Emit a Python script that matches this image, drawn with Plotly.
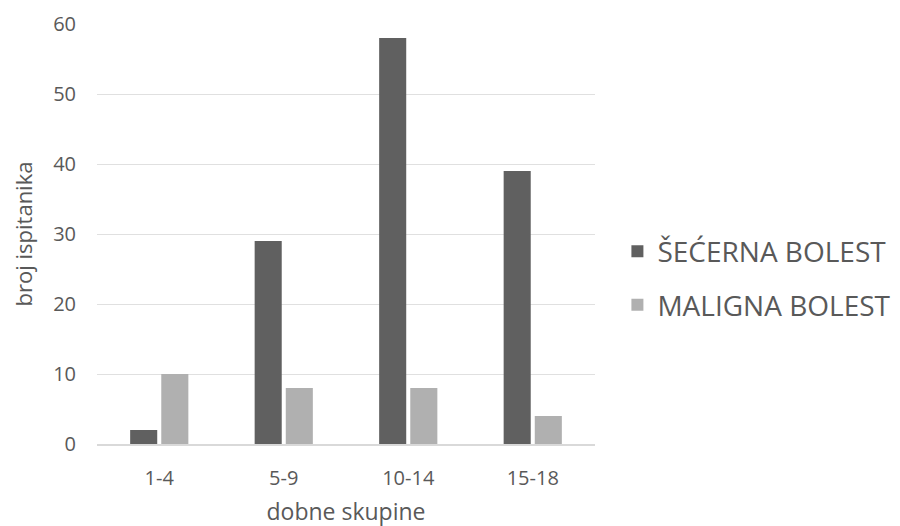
import plotly.graph_objects as go

categories = ["1-4", "5-9", "10-14", "15-18"]
secerna = [2, 29, 58, 39]
maligna = [10, 8, 8, 4]
series_names = ["ŠEĆERNA BOLEST", "MALIGNA BOLEST"]
y_ticks = [0, 10, 20, 30, 40, 50, 60]

font_family = "Open Sans, DejaVu Sans, sans-serif"
text_color = "#595959"

fig = go.Figure()
fig.add_trace(go.Bar(x=categories, y=secerna, name=series_names[0],
                     marker=dict(color="#606060", line=dict(width=0)),
                     legendgroup="a"))
fig.add_trace(go.Bar(x=categories, y=maligna, name=series_names[1],
                     marker=dict(color="#b0b0b0", line=dict(width=0)),
                     legendgroup="b"))

fig.update_layout(
    width=900, height=526,
    margin=dict(l=89, r=311, t=16, b=90),
    paper_bgcolor="white", plot_bgcolor="white",
    barmode="group", bargap=0.5, bargroupgap=0.13,
    font=dict(family=font_family, color=text_color, size=20),
    legend=dict(x=1.045, y=0.395, xanchor="left", yanchor="middle",
                font=dict(size=28, color=text_color),
                traceorder="grouped", tracegroupgap=14,
                itemwidth=30, bgcolor="rgba(0,0,0,0)"),
    xaxis=dict(showgrid=False, showline=True, linecolor="#d9d9d9", linewidth=1.5,
               ticks="", tickfont=dict(size=20, color=text_color), ticklabelstandoff=15,
               automargin=False,
               title=dict(text="dobne skupine", font=dict(size=23, color=text_color), standoff=14)),
    yaxis=dict(range=[0, 60], tickvals=y_ticks, showgrid=True, gridcolor="#e0e0e0",
               gridwidth=1, zeroline=False, showline=False, ticks="",
               tickfont=dict(size=20, color=text_color), ticklabelstandoff=20,
               automargin=False,
               title=dict(text="broj ispitanika", font=dict(size=22, color=text_color), standoff=22)),
)

fig.write_html("out.html")
